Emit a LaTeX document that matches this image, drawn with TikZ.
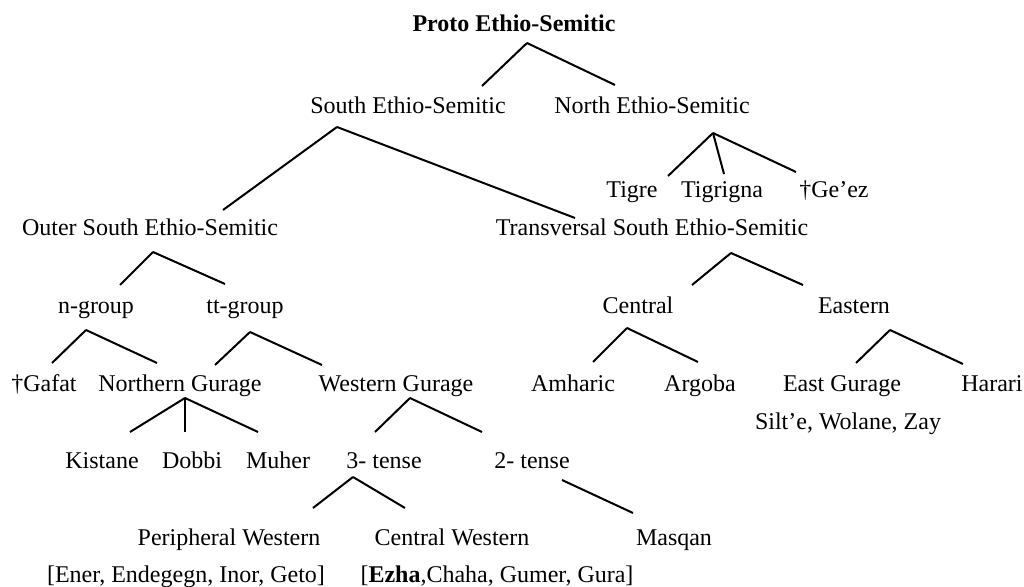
\documentclass[tikz,border=0pt]{standalone}
\usepackage{fontspec}
\setmainfont{Liberation Serif}
\usepackage{tikz}

\begin{document}
\begin{tikzpicture}[x=0.5pt, y=-0.5pt,
	every node/.style={inner sep=0pt, anchor=base, font=\fontsize{12}{14.4}\selectfont},
	branch/.style={line width=1pt}]
	\useasboundingbox (0,0) rectangle (1024,587);

	% languages and groups
	\node at (514,32) (protoet) {\textbf{Proto Ethio-Semitic}};
	\node at (408,114) (southet) {South Ethio-Semitic};
	\node at (652,114) (northet) {North Ethio-Semitic};
	\node at (632,198) (tigre) {Tigre};
	\node at (722,198) (tigrign) {Tigrigna};
	\node at (834,198) (geez) {†Ge’ez};
	\node at (150,236) (outerso) {Outer South Ethio-Semitic};
	\node at (652,236) (transve) {Transversal South Ethio-Semitic};
	\node at (96,314) (ngroup) {n-group};
	\node at (245,314) (ttgroup) {tt-group};
	\node at (638,314) (central) {Central};
	\node at (854,314) (eastern) {Eastern};
	\node at (44,392) (gafat) {†Gafat};
	\node at (180,392) (northgu) {Northern Gurage};
	\node at (396,392) (westgu) {Western Gurage};
	\node at (573,392) (amhari) {Amharic};
	\node at (700,392) (argoba) {Argoba};
	\node at (842,392) (eastgu) {East Gurage};
	\node at (992,392) (harari) {Harari};
	\node at (848,430) (siltew) {Silt’e, Wolane, Zay};
	\node at (102,469) (kistan) {Kistane};
	\node at (192,469) (dobbi) {Dobbi};
	\node at (278,469) (muher) {Muher};
	\node at (384,469) (threete) {3- tense};
	\node at (532,469) (twotens) {2- tense};
	\node at (229,546) (periphe) {Peripheral Western};
	\node at (452,546) (centwe) {Central Western};
	\node at (674,546) (masqan) {Masqan};
	\node at (186,583) (enerbr) {[Ener, Endegegn, Inor, Geto]};
	\node at (497,583) (ezhabr) {[\textbf{Ezha},Chaha, Gumer, Gura]};

	% branch points
	\coordinate (protoet-a) at (527,43);
	\coordinate (southet-a) at (337,127);
	\coordinate (northet-a) at (713,133);
	\coordinate (outerso-a) at (153,252);
	\coordinate (transve-a) at (731,253);
	\coordinate (ngroup-a) at (86,330);
	\coordinate (ttgroup-a) at (250,332);
	\coordinate (central-a) at (627,328);
	\coordinate (eastern-a) at (890,330);
	\coordinate (northgu-a) at (185,398);
	\coordinate (westgu-a) at (410,398);
	\coordinate (threete-a) at (353,477);
	\coordinate (twotens-a) at (562,480);

	% line ends above the daughters
	\coordinate (southet-t) at (482,86);
	\coordinate (northet-t) at (615,85);
	\coordinate (outerso-t) at (223,210);
	\coordinate (transve-t) at (575,218);
	\coordinate (tigre-t) at (668,176);
	\coordinate (tigrign-t) at (724,174);
	\coordinate (geez-t) at (796,172);
	\coordinate (ngroup-t) at (120,285);
	\coordinate (ttgroup-t) at (225,284);
	\coordinate (central-t) at (692,285);
	\coordinate (eastern-t) at (803,285);
	\coordinate (gafat-t) at (52,363);
	\coordinate (northgu-t) at (157,363);
	\coordinate (ttnorth-t) at (215,365);
	\coordinate (westgu-t) at (322,365);
	\coordinate (amhari-t) at (593,362);
	\coordinate (argoba-t) at (698,362);
	\coordinate (eastgu-t) at (856,363);
	\coordinate (harari-t) at (963,364);
	\coordinate (kistan-t) at (130,432);
	\coordinate (dobbi-t) at (185,432);
	\coordinate (muher-t) at (258,432);
	\coordinate (threete-t) at (375,432);
	\coordinate (twotens-t) at (482,432);
	\coordinate (periphe-t) at (313,508);
	\coordinate (centwe-t) at (405,508);
	\coordinate (masqan-t) at (633,513);

	\foreach \a/\b in {protoet/southet, protoet/northet, southet/outerso, southet/transve,
		northet/tigre, northet/tigrign, northet/geez, outerso/ngroup, outerso/ttgroup,
		transve/central, transve/eastern, ngroup/gafat, ngroup/northgu, ttgroup/ttnorth,
		ttgroup/westgu, central/amhari, central/argoba, eastern/eastgu, eastern/harari,
		northgu/kistan, northgu/dobbi, northgu/muher, westgu/threete, westgu/twotens,
		threete/periphe, threete/centwe, twotens/masqan}
		\draw[branch] (\a-a) -- (\b-t);
\end{tikzpicture}
\end{document}
